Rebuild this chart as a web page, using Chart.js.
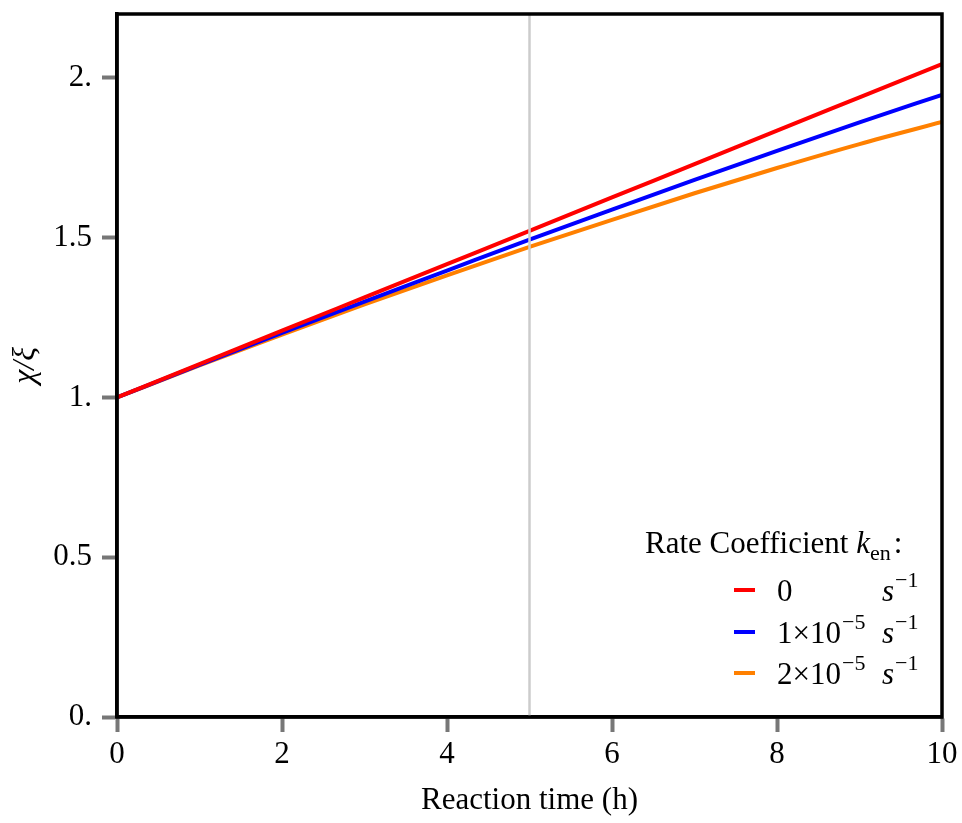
<!DOCTYPE html>
<html>
<head>
<meta charset="utf-8">
<script src="https://cdn.jsdelivr.net/npm/chart.js@4.4.1/dist/chart.umd.min.js"></script>
<style>
  html, body { margin: 0; padding: 0; background: #fff; }
  #wrap { width: 962px; height: 823px; }
</style>
</head>
<body>
<div id="wrap"><canvas id="grafico" width="962" height="823"></canvas></div>
<script>
// Dados (tempo em horas, razão chi/xi)
const tempos = [0, 1, 2, 3, 4, 5, 6, 7, 8, 9, 10];
const serieK0 = [1.0, 1.104, 1.209, 1.313, 1.417, 1.521, 1.626, 1.730, 1.835, 1.939, 2.043];
const serieK1 = [1.0, 1.102, 1.202, 1.300, 1.397, 1.494, 1.588, 1.681, 1.772, 1.861, 1.947];
const serieK2 = [1.0, 1.100, 1.197, 1.291, 1.382, 1.471, 1.556, 1.639, 1.718, 1.793, 1.862];

// Linha vertical de referência em t = 5 h
const marcadorX = [5, 5];
const marcadorY = [0, 2.2];

const ticksX = [0, 2, 4, 6, 8, 10];
const ticksY = [0, 0.5, 1, 1.5, 2];
const rotulosY = ['0.', '0.5', '1.', '1.5', '2.'];

const coresSeries = ['#ff0000', '#0000ff', '#ff8000'];
const FONTE = '"Liberation Serif", "DejaVu Serif", serif';
const TAM = 31;

const pontos = (xs, ys) => xs.map((x, i) => ({ x, y: ys[i] }));

// Moldura preta e legenda com sobrescritos
const molduraELegenda = {
  id: 'molduraELegenda',
  afterDraw(chart) {
    const { ctx, chartArea: a } = chart;
    ctx.save();
    ctx.strokeStyle = '#000';
    ctx.lineWidth = 3.5;
    ctx.strokeRect(a.left, a.top, a.right - a.left, a.bottom - a.top);

    ctx.fillStyle = '#000';
    ctx.textBaseline = 'alphabetic';
    ctx.textAlign = 'left';
    // título da legenda
    ctx.font = `${TAM}px ${FONTE}`;
    let x = 645;
    const yTitulo = 553;
    ctx.fillText('Rate Coefficient ', x, yTitulo);
    x += ctx.measureText('Rate Coefficient ').width;
    ctx.font = `italic ${TAM}px ${FONTE}`;
    ctx.fillText('k', x, yTitulo);
    x += ctx.measureText('k').width;
    ctx.font = `22px ${FONTE}`;
    ctx.fillText('en', x, yTitulo + 7);
    x += ctx.measureText('en').width;
    ctx.font = `${TAM}px ${FONTE}`;
    ctx.fillText(':', x + 3, yTitulo);

    const entradas = [
      { prefixo: '0', expoente: '' },
      { prefixo: '1×10', expoente: '−5' },
      { prefixo: '2×10', expoente: '−5' },
    ];
    const ysLinha = [590, 632, 673];
    const xTexto = 777;
    const xUnidade = 882;
    entradas.forEach((e, i) => {
      const y = ysLinha[i];
      ctx.strokeStyle = coresSeries[i];
      ctx.lineWidth = 4;
      ctx.beginPath();
      ctx.moveTo(734, y);
      ctx.lineTo(755, y);
      ctx.stroke();

      const base = y + 11;
      ctx.font = `${TAM}px ${FONTE}`;
      ctx.fillText(e.prefixo, xTexto, base);
      if (e.expoente) {
        const w = ctx.measureText(e.prefixo).width;
        ctx.font = `22px ${FONTE}`;
        ctx.fillText(e.expoente, xTexto + w + 1, base - 14);
      }
      ctx.font = `italic ${TAM}px ${FONTE}`;
      ctx.fillText('s', xUnidade, base);
      const ws = ctx.measureText('s').width;
      ctx.font = `22px ${FONTE}`;
      ctx.fillText('−1', xUnidade + ws + 1, base - 14);
    });
    ctx.restore();
  },
};

const estiloLinha = (cor) => ({
  borderColor: cor,
  backgroundColor: cor,
  borderWidth: 4,
  pointRadius: 0,
  fill: false,
  cubicInterpolationMode: 'monotone',
});

new Chart(document.getElementById('grafico').getContext('2d'), {
  type: 'line',
  data: {
    datasets: [
      {
        data: pontos(marcadorX, marcadorY),
        borderColor: '#cccccc',
        borderWidth: 2.5,
        pointRadius: 0,
        fill: false,
      },
      { label: '0 s^-1', data: pontos(tempos, serieK0), ...estiloLinha(coresSeries[0]) },
      { label: '1x10^-5 s^-1', data: pontos(tempos, serieK1), ...estiloLinha(coresSeries[1]) },
      { label: '2x10^-5 s^-1', data: pontos(tempos, serieK2), ...estiloLinha(coresSeries[2]) },
    ],
  },
  options: {
    responsive: false,
    animation: false,
    devicePixelRatio: 1,
    layout: { padding: { top: 14, right: 20, left: 0, bottom: 0 } },
    plugins: { legend: { display: false }, tooltip: { enabled: false } },
    scales: {
      x: {
        type: 'linear',
        min: 0,
        max: 10,
        afterBuildTicks: (s) => { s.ticks = ticksX.map((v) => ({ value: v })); },
        afterFit: (s) => { s.height = 106; s.paddingLeft = 0; s.paddingRight = 0; },
        grid: { drawOnChartArea: false, drawTicks: true, tickLength: 15, tickColor: '#777', tickWidth: 4 },
        border: { display: true, color: '#000', width: 3.5 },
        ticks: { color: '#000', padding: 4, font: { family: FONTE, size: TAM }, maxRotation: 0 },
        title: {
          display: true,
          text: 'Reaction time (h)',
          color: '#000',
          font: { family: FONTE, size: TAM },
          padding: { top: 4, bottom: 4 },
        },
      },
      y: {
        min: 0,
        max: 2.2,
        afterBuildTicks: (s) => { s.ticks = ticksY.map((v) => ({ value: v })); },
        afterFit: (s) => { s.width = 117; s.paddingTop = 0; s.paddingBottom = 0; },
        grid: { drawOnChartArea: false, drawTicks: true, tickLength: 15, tickColor: '#777', tickWidth: 4 },
        border: { display: true, color: '#000', width: 3.5 },
        ticks: {
          color: '#000',
          padding: 10,
          font: { family: FONTE, size: TAM },
          callback: (v) => rotulosY[ticksY.indexOf(v)] ?? '',
        },
        title: {
          display: true,
          text: 'χ/ξ',
          color: '#000',
          font: { family: FONTE, size: 32, style: 'italic' },
          padding: { top: 6, bottom: 0 },
        },
      },
    },
  },
  plugins: [molduraELegenda],
});
</script>
</body>
</html>
